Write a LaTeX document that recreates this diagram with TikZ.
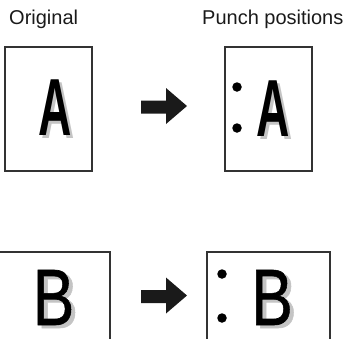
\documentclass[tikz,border=0pt]{standalone}
\usepackage{fontspec}
\setmainfont{Liberation Sans}
\newfontfamily\letterB{Liberation Sans}[FakeBold=0.8]
\definecolor{ink}{HTML}{1A1A1A}
\definecolor{frame}{HTML}{333333}
\definecolor{shade}{HTML}{C4C4C4}
\newcommand\glyphA{\scalebox{0.57}[1]{\fontsize{81}{81}\selectfont\bfseries A}}
\newcommand\glyphB{\scalebox{0.78}[1]{\fontsize{80}{80}\selectfont\letterB B}}
\tikzset{
  page/.style={draw=frame, line width=1.6pt, fill=none, inner sep=0},
  label/.style={anchor=base west, inner sep=0, text=ink, font=\fontsize{20}{24}\selectfont},
  letter/.style={anchor=base, inner sep=0, text=black},
  shadow/.style={anchor=base, inner sep=0, text=shade},
  hole/.style={circle, fill=black, draw=none, inner sep=0, minimum size=9.5pt},
  bigarrow/.style={fill=ink, draw=none}
}
\begin{document}
\begin{tikzpicture}[x=1pt,y=-1pt]
\useasboundingbox (0,0) rectangle (347,338);
\clip (0,0) rectangle (347,338);
% labels
\node[label] (orig) at (9,24.5) {Original};
\node[label] (punch) at (202,24.5) {Punch positions};
% top pages
\node[page, minimum width=87pt, minimum height=124pt] (pA1) at (48.5,109) {};
\node[page, minimum width=87pt, minimum height=124pt] (pA2) at (268.5,109) {};
% bottom pages
\draw[frame, line width=1.6pt] (-5,360) |- (110,252) -- (110,360);
\draw[frame, line width=1.6pt] (207,360) |- (330,252) -- (330,360);
% letters A
\node[shadow] (sA1) at (58.5,138.5) {\glyphA};
\node[letter] (A1) at (55,135) {\glyphA};
\node[shadow] (sA2) at (276.5,139.5) {\glyphA};
\node[letter] (A2) at (273,136) {\glyphA};
% letters B
\node[shadow] (sB1) at (57.5,328) {\glyphB};
\node[letter] (B1) at (53.5,325) {\glyphB};
\node[shadow] (sB2) at (276,328) {\glyphB};
\node[letter] (B2) at (272,325) {\glyphB};
% punch holes
\node[hole] (h1) at (237,87) {};
\node[hole] (h2) at (237,128) {};
\node[hole] (h3) at (222,274) {};
\node[hole] (h4) at (222,318) {};
% arrows
\fill[bigarrow] (141,100.5) -- (166,100.5) -- (166,88) -- (187,106) -- (166,124) -- (166,113.5) -- (141,113.5) -- cycle;
\fill[bigarrow] (141,290) -- (166,290) -- (166,277.5) -- (187,295.5) -- (166,313.5) -- (166,303) -- (141,303) -- cycle;
\end{tikzpicture}
\end{document}
